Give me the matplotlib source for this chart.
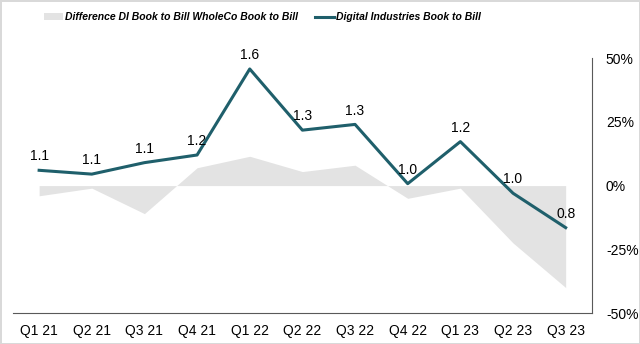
import matplotlib
matplotlib.use("Agg")
from matplotlib import pyplot as plt
from matplotlib.ticker import FuncFormatter

quarters = ["Q1 21", "Q2 21", "Q3 21", "Q4 21", "Q1 22", "Q2 22",
            "Q3 22", "Q4 22", "Q1 23", "Q2 23", "Q3 23"]
# difference DI book to bill vs WholeCo book to bill, in %
difference = [-4, -1, -11, 7, 11.5, 5.5, 8, -5, -1, -22.5, -40]
# Digital Industries book to bill
di_book_to_bill = [1.08, 1.06, 1.12, 1.16, 1.61, 1.29, 1.32, 1.01, 1.23, 0.96, 0.78]

plt.rcParams["font.family"] = ["Liberation Sans", "DejaVu Sans"]
plt.rcParams["font.size"] = 10

line_color = "#1f5f6b"
area_color = "#e3e3e3"

fig = plt.figure(figsize=(6.4, 3.44), dpi=100)
fig.patch.set_edgecolor("#d9d9d9")
fig.patch.set_linewidth(2)
ax = fig.add_axes([0.02, 0.09, 0.905, 0.741])

x = list(range(len(quarters)))
area = ax.fill_between(x, 0, difference, color=area_color, linewidth=0,
                       label="Difference DI Book to Bill WholeCo Book to Bill")
ax.set_xlim(-0.5, len(quarters) - 0.5)
ax.set_ylim(-50, 50)
ax.set_yticks([-50, -25, 0, 25, 50])
ax.yaxis.set_major_formatter(FuncFormatter(lambda v, p: f"{v:.0f}%"))
ax.set_xticks(x)
ax.set_xticklabels(quarters)
for side in ["top", "left"]:
    ax.spines[side].set_visible(False)
ax.spines["bottom"].set_color("#595959")
ax.spines["right"].set_color("#595959")

ax2 = ax.twinx()
line, = ax2.plot(x, di_book_to_bill, color=line_color, linewidth=2.2,
                 label="Digital Industries Book to Bill")
ax2.set_ylim(1 - 50 / 75, 1 + 50 / 75)
ax2.set_yticks([])
for side in ax2.spines:
    ax2.spines[side].set_visible(False)
for xi, v in zip(x, di_book_to_bill):
    ax2.annotate(f"{v:.1f}", (xi, v), xytext=(0, 10), textcoords="offset points",
                 ha="center", va="center", fontsize=10)

# twinx moves the primary ticks to the left, put them back on the right
ax.yaxis.tick_right()
ax.tick_params(axis="both", length=0, labelsize=10, colors="black")
ax.tick_params(axis="x", pad=8)
ax.tick_params(axis="y", pad=10)

fig.legend(handles=[area, line], loc="center", bbox_to_anchor=(0.41, 0.95),
           ncol=2, frameon=False, handlelength=1.8, handletextpad=0.2,
           columnspacing=1.6,
           prop={"weight": "bold", "style": "italic", "size": 7.5})

fig.savefig("out.png", dpi=100, edgecolor=fig.get_edgecolor())
